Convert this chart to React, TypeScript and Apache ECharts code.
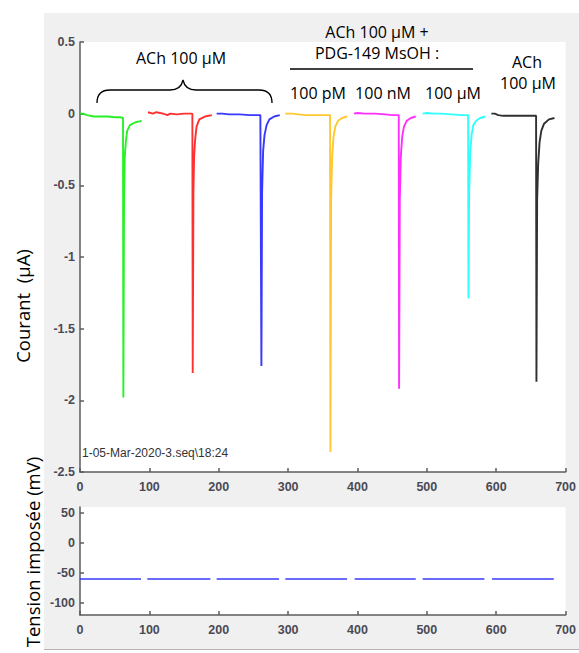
import React, { useEffect, useRef } from "react";
import * as echarts from "echarts";

// ---- Top panel: current traces (µA) ----
const greenX = [0, 5, 10, 20, 30, 40, 50, 58, 62, 62.5, 63.5, 64.5, 66, 68, 72, 80, 89];
const greenY = [0.0, 0.0, -0.01, -0.02, -0.02, -0.02, -0.025, -0.025, -0.03, -1.98, -0.6, -0.3, -0.2, -0.12, -0.08, -0.06, -0.05];

const redX = [98, 105, 110, 120, 126, 130, 140, 150, 160, 162, 162.5, 163.5, 164.5, 166, 168, 172, 180, 190];
const redY = [0.01, 0.0, 0.01, 0.0, -0.01, 0.0, -0.005, 0.0, 0.0, 0.0, -1.81, -0.55, -0.3, -0.18, -0.09, -0.04, -0.02, -0.01];

const blueX = [197, 205, 215, 230, 245, 255, 260, 261, 261.5, 262.5, 264, 266, 269, 273, 280, 288];
const blueY = [0.0, 0.0, -0.005, -0.005, -0.01, -0.01, -0.01, -0.01, -1.76, -0.55, -0.26, -0.15, -0.08, -0.04, -0.02, -0.01];

const yellowX = [296, 305, 315, 325, 340, 350, 358, 360.5, 361, 362, 363.5, 365.5, 368, 372, 378, 385];
const yellowY = [0.0, 0.0, -0.005, -0.01, -0.01, -0.01, -0.01, -0.01, -2.36, -0.6, -0.3, -0.16, -0.09, -0.05, -0.03, -0.02];

const magentaX = [395, 400, 410, 425, 440, 450, 457, 459.5, 460, 461, 462.5, 464.5, 467, 471, 477, 484];
const magentaY = [0.0, 0.005, 0.0, 0.0, -0.005, -0.01, -0.01, -0.01, -1.92, -0.6, -0.3, -0.16, -0.09, -0.05, -0.03, -0.02];

const cyanX = [494, 500, 510, 520, 535, 550, 557, 559.5, 560, 561, 562.5, 564.5, 567, 571, 577, 584];
const cyanY = [0.0, 0.005, 0.0, 0.0, -0.005, -0.01, -0.01, -0.01, -1.29, -0.55, -0.28, -0.15, -0.08, -0.05, -0.03, -0.02];

const blackX = [593, 598, 603, 610, 625, 640, 652, 657.5, 658, 659, 660.5, 662.5, 665, 669, 676, 684];
const blackY = [0.0, 0.0, -0.01, -0.015, -0.015, -0.015, -0.015, -0.015, -1.87, -0.6, -0.35, -0.2, -0.12, -0.07, -0.04, -0.03];

const traceColors = ["#11f011", "#ff1a1a", "#2222ff", "#ffc21a", "#ff1aff", "#1affff", "#1a1a1a"];

// ---- Bottom panel: imposed voltage (mV) ----
const vSegStart = [0, 97, 197, 296, 396, 494, 594];
const vSegEnd = [88, 188, 287, 385, 484, 583, 683];
const vHold = [-60, -60, -60, -60, -60, -60, -60];

const topYTicks = { min: -2.5, max: 0.5, interval: 0.5 };
const xRange = { min: 0, max: 700, interval: 100 };
const bottomYLabels = [-100, -50, 0, 50];

const braceD =
  "M97,103 Q97,90 110,90 L170,90 Q181,90 183,80 Q185,90 196,90 L259,90 Q272,90 272,103";
echarts.graphic.registerShape("brace", echarts.graphic.extendPath(braceD, {}));

const zip = (xs: number[], ys: number[]) => xs.map((x, i) => [x, ys[i]]);

export default function App() {
  const ref = useRef<HTMLDivElement>(null);
  useEffect(() => {
    if (!ref.current) return;
    const chart = echarts.init(ref.current, null, { renderer: "svg" });

    const tickFont = "'Liberation Sans Narrow', 'Liberation Sans', Arial, sans-serif";
    const axisColor = "#5c5c5c";
    const labelStyle = {
      color: "#4a4a55",
      fontFamily: tickFont,
      fontSize: 12.5,
      fontWeight: "bold" as const,
    };

    const traces = [
      zip(greenX, greenY),
      zip(redX, redY),
      zip(blueX, blueY),
      zip(yellowX, yellowY),
      zip(magentaX, magentaY),
      zip(cyanX, cyanY),
      zip(blackX, blackY),
    ];

    const voltData: (number[] | null)[] = [];
    vSegStart.forEach((s, i) => {
      if (i > 0) voltData.push(null);
      voltData.push([s, vHold[i]]);
      voltData.push([vSegEnd[i], vHold[i]]);
    });

    const annFont = "'Open Sans', 'Noto Sans', sans-serif";
    const txt = (text: string, x: number, y: number, size = 16) => ({
      type: "text",
      x,
      y,
      style: {
        text,
        fill: "#000",
        fontFamily: annFont,
        fontSize: size,
        align: "center",
        verticalAlign: "middle",
      },
    });

    const xAxisBase = (gridIndex: number) => ({
      type: "value",
      gridIndex,
      min: xRange.min,
      max: xRange.max,
      interval: xRange.interval,
      axisLine: { show: true, onZero: false, lineStyle: { color: axisColor, width: 1.5 } },
      axisTick: { show: true, inside: true, length: 4, lineStyle: { color: axisColor, width: 1.5 } },
      axisLabel: { ...labelStyle, margin: 8 },
      splitLine: { show: false },
    });

    chart.setOption({
      animation: false,
      grid: [
        { left: 80, top: 42, width: 488, height: 430, show: true, backgroundColor: "#ffffff", borderWidth: 0 },
        { left: 80, top: 507, width: 488, height: 108, show: true, backgroundColor: "#ffffff", borderWidth: 0 },
      ],
      xAxis: [xAxisBase(0), xAxisBase(1)],
      yAxis: [
        {
          type: "value",
          gridIndex: 0,
          min: topYTicks.min,
          max: topYTicks.max,
          interval: topYTicks.interval,
          axisLine: { show: true, onZero: false, lineStyle: { color: axisColor, width: 1.5 } },
          axisTick: { show: true, inside: true, length: 4, lineStyle: { color: axisColor, width: 1.5 } },
          axisLabel: { ...labelStyle, margin: 5 },
          splitLine: { show: false },
        },
        {
          type: "value",
          gridIndex: 1,
          min: -120,
          max: 60,
          axisLine: { show: true, onZero: false, lineStyle: { color: axisColor, width: 1.5 } },
          axisTick: {
            show: true,
            inside: true,
            length: 4,
            customValues: bottomYLabels,
            lineStyle: { color: axisColor, width: 1.5 },
          },
          axisLabel: { ...labelStyle, margin: 5, customValues: bottomYLabels },
          splitLine: { show: false },
        },
      ],
      series: [
        ...traces.map((d, i) => ({
          type: "line",
          xAxisIndex: 0,
          yAxisIndex: 0,
          data: d,
          showSymbol: false,
          symbol: "none",
          lineStyle: { color: traceColors[i], width: 1.9, opacity: 0.9 },
          itemStyle: { color: traceColors[i] },
          z: 3,
        })),
        {
          type: "line",
          xAxisIndex: 1,
          yAxisIndex: 1,
          data: voltData,
          connectNulls: false,
          showSymbol: false,
          symbol: "none",
          lineStyle: { color: "#3a3aff", width: 1.5 },
          itemStyle: { color: "#3a3aff" },
        },
      ],
      graphic: [
        txt("ACh 100 μM", 181, 58),
        {
          type: "brace",
          x: 0,
          y: 0,
          scaleX: 1,
          scaleY: 1,
          style: { stroke: "#000", fill: null, lineWidth: 1.3 },
        },
        txt("ACh 100 μM +", 377, 32),
        txt("PDG-149 MsOH :", 377, 53),
        {
          type: "line",
          shape: { x1: 290, y1: 69, x2: 473, y2: 69 },
          style: { stroke: "#000", lineWidth: 1.5 },
        },
        txt("100 pM", 318, 93),
        txt("100 nM", 383, 93),
        txt("100 μM", 453, 93),
        txt("ACh", 527, 62),
        txt("100 μM", 528, 83),
        {
          type: "text",
          x: 82,
          y: 453,
          style: {
            text: "1-05-Mar-2020-3.seq\\18:24",
            fill: "#333",
            fontFamily: tickFont,
            fontSize: 12,
            align: "left",
            verticalAlign: "middle",
          },
        },
        {
          type: "text",
          x: 22,
          y: 306,
          rotation: Math.PI / 2,
          style: {
            text: "Courant  (µA)",
            fill: "#000",
            fontFamily: annFont,
            fontSize: 18.5,
            align: "center",
            verticalAlign: "middle",
          },
        },
        {
          type: "text",
          x: 32,
          y: 552,
          rotation: Math.PI / 2,
          style: {
            text: "Tension imposée (mV)",
            fill: "#000",
            fontFamily: annFont,
            fontSize: 18.5,
            align: "center",
            verticalAlign: "middle",
          },
        },
      ],
    });
    return () => chart.dispose();
  }, []);

  return (
    <div style={{ position: "fixed", left: 0, top: 0, width: 579, height: 653, background: "#fff", overflow: "hidden" }}>
      <div
        style={{
          position: "absolute",
          left: 44,
          top: 13,
          width: 535,
          height: 636,
          background: "#f0f0f0",
          borderBottom: "1px solid #b4b4b4",
        }}
      />
      <div ref={ref} style={{ position: "absolute", left: 0, top: 0, width: 579, height: 653 }} />
    </div>
  );
}
